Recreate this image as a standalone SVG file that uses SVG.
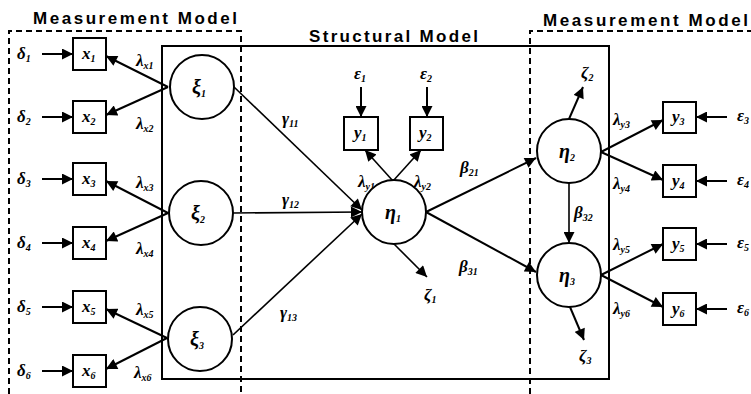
<svg xmlns="http://www.w3.org/2000/svg" width="751" height="394" viewBox="0 0 751 394">
<style>
.title{font:bold 17px "Liberation Sans",Arial,sans-serif;fill:#000}
.m{font:italic bold 17px "Liberation Serif","Times New Roman",serif;fill:#000}
.big{font:italic bold 20px "Liberation Serif","Times New Roman",serif;fill:#000}
.s{font-size:10px}
.box{fill:#fff;stroke:#000;stroke-width:2}
.circ{fill:#fff;stroke:#000;stroke-width:2}
.dash{fill:none;stroke:#000;stroke-width:2;stroke-dasharray:6 4}
.frame{fill:none;stroke:#000;stroke-width:2}
.c{fill:none;stroke:#000;stroke-width:2;marker-end:url(#ah)}
.cl{fill:none;stroke:#000;stroke-width:1.6;marker-end:url(#ah)}
</style>
<defs>
<marker id="ah" viewBox="0 0 10 10" refX="10" refY="5" markerWidth="12" markerHeight="11" markerUnits="userSpaceOnUse" orient="auto">
<path d="M0,0 L10,5 L0,10 z" fill="#000"/>
</marker>
</defs>
<rect width="751" height="394" fill="#fff"/>

<g id="frames">
<path class="dash" d="M9,394 V31 H241 V394"/>
<path class="dash" d="M530,394 V31 H751"/>
<rect class="frame" x="162" y="46" width="447" height="333"/>
<text class="title" x="33" y="24" textLength="204" lengthAdjust="spacing">Measurement Model</text>
<text class="title" x="309" y="42" textLength="169" lengthAdjust="spacing">Structural Model</text>
<text class="title" x="543" y="26" textLength="205" lengthAdjust="spacing">Measurement Model</text>
</g>

<g id="connectors">
<line class="c" x1="42" y1="54" x2="73" y2="54"/>
<line class="c" x1="42" y1="117" x2="73" y2="117"/>
<line class="c" x1="42" y1="179" x2="73" y2="179"/>
<line class="c" x1="42" y1="243" x2="73" y2="243"/>
<line class="c" x1="42" y1="307" x2="73" y2="307"/>
<line class="c" x1="42" y1="371" x2="73" y2="371"/>
<line class="c" x1="168" y1="87" x2="106" y2="56"/>
<line class="c" x1="168" y1="87" x2="106" y2="115"/>
<line class="c" x1="168" y1="213" x2="106" y2="181"/>
<line class="c" x1="168" y1="213" x2="106" y2="241"/>
<line class="c" x1="167" y1="338" x2="106" y2="309"/>
<line class="c" x1="167" y1="338" x2="106" y2="369"/>
<line class="cl" x1="234" y1="87" x2="362" y2="210"/>
<line class="cl" x1="233" y1="213" x2="362" y2="212"/>
<line class="cl" x1="233" y1="335" x2="362" y2="214"/>
<line class="c" x1="361" y1="87" x2="361" y2="117"/>
<line class="c" x1="427" y1="87" x2="427" y2="117"/>
<line class="cl" x1="393" y1="181" x2="365" y2="150"/>
<line class="cl" x1="393" y1="181" x2="421" y2="150"/>
<line class="cl" x1="394" y1="244" x2="427" y2="277"/>
<line class="c" x1="426" y1="212" x2="536" y2="158"/>
<line class="c" x1="426" y1="212" x2="536" y2="272"/>
<line class="cl" x1="569" y1="183" x2="569" y2="243"/>
<line class="c" x1="569" y1="119" x2="583" y2="87"/>
<line class="c" x1="570" y1="307" x2="584" y2="340"/>
<line class="c" x1="601" y1="152" x2="663" y2="120"/>
<line class="c" x1="601" y1="152" x2="663" y2="180"/>
<line class="c" x1="601" y1="275" x2="663" y2="244"/>
<line class="c" x1="601" y1="275" x2="663" y2="307"/>
<line class="c" x1="727" y1="117" x2="696" y2="117"/>
<line class="c" x1="727" y1="181" x2="696" y2="181"/>
<line class="c" x1="727" y1="244" x2="696" y2="244"/>
<line class="c" x1="727" y1="309" x2="696" y2="309"/>
</g>

<g id="connector-labels">
<text class="m" x="136" y="66">λ<tspan class="s" dy="3">x1</tspan></text>
<text class="m" x="136" y="129">λ<tspan class="s" dy="3">x2</tspan></text>
<text class="m" x="136" y="188">λ<tspan class="s" dy="3">x3</tspan></text>
<text class="m" x="136" y="254">λ<tspan class="s" dy="3">x4</tspan></text>
<text class="m" x="136" y="315">λ<tspan class="s" dy="3">x5</tspan></text>
<text class="m" x="134" y="378">λ<tspan class="s" dy="3">x6</tspan></text>
<text class="m" x="282" y="124">γ<tspan class="s" dy="3">11</tspan></text>
<text class="m" x="282" y="205">γ<tspan class="s" dy="3">12</tspan></text>
<text class="m" x="280" y="318">γ<tspan class="s" dy="3">13</tspan></text>
<text class="m" x="358" y="187">λ<tspan class="s" dy="3">y1</tspan></text>
<text class="m" x="414" y="187">λ<tspan class="s" dy="3">y2</tspan></text>
<text class="m" x="460" y="173">β<tspan class="s" dy="3">21</tspan></text>
<text class="m" x="459" y="272">β<tspan class="s" dy="3">31</tspan></text>
<text class="m" x="574" y="218">β<tspan class="s" dy="3">32</tspan></text>
<text class="m" x="613" y="125">λ<tspan class="s" dy="3">y3</tspan></text>
<text class="m" x="613" y="189">λ<tspan class="s" dy="3">y4</tspan></text>
<text class="m" x="613" y="250">λ<tspan class="s" dy="3">y5</tspan></text>
<text class="m" x="613" y="314">λ<tspan class="s" dy="3">y6</tspan></text>
</g>

<g id="delta1"><text class="m" x="17" y="59">δ<tspan class="s" dy="3">1</tspan></text></g>
<g id="delta2"><text class="m" x="17" y="122">δ<tspan class="s" dy="3">2</tspan></text></g>
<g id="delta3"><text class="m" x="17" y="184">δ<tspan class="s" dy="3">3</tspan></text></g>
<g id="delta4"><text class="m" x="17" y="248">δ<tspan class="s" dy="3">4</tspan></text></g>
<g id="delta5"><text class="m" x="17" y="312">δ<tspan class="s" dy="3">5</tspan></text></g>
<g id="delta6"><text class="m" x="17" y="376">δ<tspan class="s" dy="3">6</tspan></text></g>

<g id="x1"><rect class="box" x="73" y="38" width="33" height="32"/><text class="m" x="82" y="59">x<tspan class="s" dy="3">1</tspan></text></g>
<g id="x2"><rect class="box" x="73" y="101" width="33" height="32"/><text class="m" x="82" y="122">x<tspan class="s" dy="3">2</tspan></text></g>
<g id="x3"><rect class="box" x="73" y="163" width="33" height="32"/><text class="m" x="82" y="184">x<tspan class="s" dy="3">3</tspan></text></g>
<g id="x4"><rect class="box" x="73" y="227" width="33" height="32"/><text class="m" x="82" y="248">x<tspan class="s" dy="3">4</tspan></text></g>
<g id="x5"><rect class="box" x="73" y="291" width="33" height="32"/><text class="m" x="82" y="312">x<tspan class="s" dy="3">5</tspan></text></g>
<g id="x6"><rect class="box" x="73" y="355" width="33" height="32"/><text class="m" x="82" y="376">x<tspan class="s" dy="3">6</tspan></text></g>

<g id="xi1"><circle class="circ" cx="202" cy="87" r="32"/><text class="big" x="192" y="94">ξ<tspan class="s" dy="3">1</tspan></text></g>
<g id="xi2"><circle class="circ" cx="201" cy="213" r="32"/><text class="big" x="191" y="220">ξ<tspan class="s" dy="3">2</tspan></text></g>
<g id="xi3"><circle class="circ" cx="200" cy="339" r="32"/><text class="big" x="190" y="346">ξ<tspan class="s" dy="3">3</tspan></text></g>

<g id="eta1"><circle class="circ" cx="394" cy="212" r="32"/><text class="big" x="385" y="219">η<tspan class="s" dy="3">1</tspan></text></g>
<g id="eta2"><circle class="circ" cx="569" cy="151" r="32"/><text class="big" x="559" y="158">η<tspan class="s" dy="3">2</tspan></text></g>
<g id="eta3"><circle class="circ" cx="569" cy="275" r="32"/><text class="big" x="559" y="282">η<tspan class="s" dy="3">3</tspan></text></g>

<g id="eps1"><text class="m" x="354" y="79">ε<tspan class="s" dy="3">1</tspan></text></g>
<g id="eps2"><text class="m" x="420" y="79">ε<tspan class="s" dy="3">2</tspan></text></g>
<g id="y1"><rect class="box" x="344" y="117" width="34" height="33"/><text class="m" x="354" y="138">y<tspan class="s" dy="3">1</tspan></text></g>
<g id="y2"><rect class="box" x="410" y="117" width="33" height="33"/><text class="m" x="419" y="138">y<tspan class="s" dy="3">2</tspan></text></g>

<g id="zeta1"><text class="m" x="424" y="300">ζ<tspan class="s" dy="3">1</tspan></text></g>
<g id="zeta2"><text class="m" x="581" y="78">ζ<tspan class="s" dy="3">2</tspan></text></g>
<g id="zeta3"><text class="m" x="579" y="361">ζ<tspan class="s" dy="3">3</tspan></text></g>

<g id="y3"><rect class="box" x="663" y="102" width="33" height="31"/><text class="m" x="672" y="122">y<tspan class="s" dy="3">3</tspan></text></g>
<g id="y4"><rect class="box" x="663" y="165" width="33" height="32"/><text class="m" x="672" y="186">y<tspan class="s" dy="3">4</tspan></text></g>
<g id="y5"><rect class="box" x="663" y="228" width="33" height="32"/><text class="m" x="672" y="249">y<tspan class="s" dy="3">5</tspan></text></g>
<g id="y6"><rect class="box" x="663" y="293" width="33" height="32"/><text class="m" x="672" y="314">y<tspan class="s" dy="3">6</tspan></text></g>

<g id="eps3"><text class="m" x="737" y="121">ε<tspan class="s" dy="3">3</tspan></text></g>
<g id="eps4"><text class="m" x="737" y="185">ε<tspan class="s" dy="3">4</tspan></text></g>
<g id="eps5"><text class="m" x="737" y="248">ε<tspan class="s" dy="3">5</tspan></text></g>
<g id="eps6"><text class="m" x="737" y="313">ε<tspan class="s" dy="3">6</tspan></text></g>
</svg>
